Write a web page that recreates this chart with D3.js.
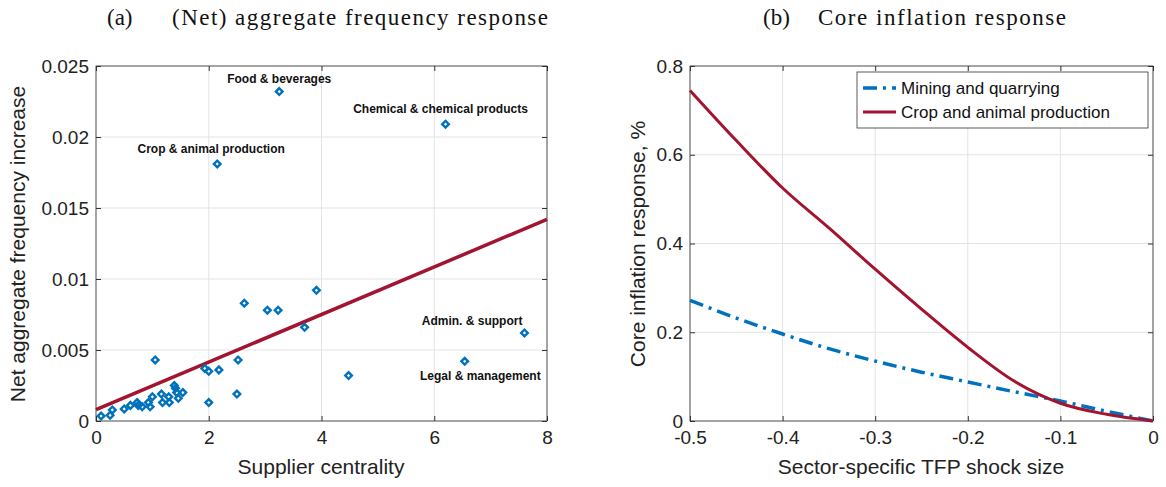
<!DOCTYPE html>
<html><head><meta charset="utf-8">
<script src="https://cdn.jsdelivr.net/npm/d3@7"></script>
<style>body{margin:0;background:#fff}</style></head>
<body><svg id="c" width="1166" height="487"></svg>
<script>
// scatter: supplier centrality vs net aggregate frequency increase
const centrality = [0.09,0.25,0.29,0.5,0.61,0.73,0.75,0.82,0.93,0.96,1.0,1.05,1.16,1.18,1.29,1.3,1.39,1.41,1.43,1.46,1.54,1.93,2.0,2.18,2.52,2.5,2.0,2.63,3.04,3.23,3.91,3.7,4.48,6.54,7.6,3.25,6.2,2.15];
const freqIncrease = [0.00035,0.0004,0.00078,0.00085,0.0011,0.0013,0.0011,0.001,0.0013,0.001,0.0017,0.0043,0.0019,0.0013,0.0017,0.0013,0.0025,0.0023,0.002,0.0016,0.002,0.0037,0.0035,0.0036,0.0043,0.0019,0.0013,0.0083,0.0078,0.0078,0.0092,0.0066,0.0032,0.0042,0.0062,0.0232,0.0209,0.0181];
const labels = [
  {name:"Food & beverages", x:3.25, y:0.0232, dx:0, dy:-9, anchor:"middle"},
  {name:"Chemical & chemical products", x:6.2, y:0.0209, dx:-5, dy:-11, anchor:"middle"},
  {name:"Crop & animal production", x:2.15, y:0.0181, dx:-6, dy:-11, anchor:"middle"},
  {name:"Admin. & support", x:7.6, y:0.0062, dx:-2, dy:-8, anchor:"end"},
  {name:"Legal & management", x:6.54, y:0.0042, dx:76, dy:19, anchor:"end"}
];
const fitX = [0, 8];
const fitY = [0.0008, 0.0142];

// response curves
const shock = [-0.5,-0.45,-0.4,-0.35,-0.3,-0.25,-0.2,-0.15,-0.1,-0.05,0];
const mining = [0.272,0.232,0.196,0.163,0.135,0.11,0.088,0.066,0.045,0.022,0];
const crop = [0.745,0.632,0.525,0.435,0.342,0.252,0.166,0.09,0.04,0.015,0];

const svg = d3.select("#c");
const font = "'Liberation Sans', Arial, sans-serif";
const serif = "'Liberation Serif', 'Times New Roman', serif";
const TOP = 66, BOT = 421;

function panel(x0, x1, xDom, yDom, xTicks, yTicks, xFmt, yFmt) {
  const x = d3.scaleLinear().domain(xDom).range([x0, x1]);
  const y = d3.scaleLinear().domain(yDom).range([BOT, TOP]);
  const g = svg.append("g");
  g.selectAll(".gx").data(xTicks).enter().append("line")
    .attr("x1", d => x(d)).attr("x2", d => x(d)).attr("y1", TOP).attr("y2", BOT)
    .attr("stroke", "#e3e3e3");
  g.selectAll(".gy").data(yTicks).enter().append("line")
    .attr("y1", d => y(d)).attr("y2", d => y(d)).attr("x1", x0).attr("x2", x1)
    .attr("stroke", "#e3e3e3");
  g.append("g").attr("transform", `translate(0,${BOT})`)
    .call(d3.axisBottom(x).tickValues(xTicks).tickFormat(xFmt).tickSizeInner(-5).tickSizeOuter(0).tickPadding(10));
  g.append("g").attr("transform", `translate(${x0},0)`)
    .call(d3.axisLeft(y).tickValues(yTicks).tickFormat(yFmt).tickSizeInner(-5).tickSizeOuter(0).tickPadding(7));
  g.append("g").attr("transform", `translate(0,${TOP})`)
    .call(d3.axisTop(x).tickValues(xTicks).tickFormat("").tickSizeInner(-5).tickSizeOuter(0));
  g.append("g").attr("transform", `translate(${x1},0)`)
    .call(d3.axisRight(y).tickValues(yTicks).tickFormat("").tickSizeInner(-5).tickSizeOuter(0));
  g.selectAll(".domain").remove();
  g.selectAll(".tick line").attr("stroke", "#333");
  g.selectAll(".tick text").attr("font-family", font).attr("font-size", 19).attr("fill", "#222");
  g.append("rect").attr("x", x0).attr("y", TOP).attr("width", x1 - x0).attr("height", BOT - TOP)
    .attr("fill", "none").attr("stroke", "#333").attr("stroke-width", 0.8);
  return {x, y, g};
}

function title(xTag, tag, xText, text, len) {
  svg.append("text").attr("x", xTag).attr("y", 25).attr("font-family", serif)
    .attr("font-size", 23).attr("fill", "#111").text(tag);
  svg.append("text").attr("x", xText).attr("y", 25).attr("font-family", serif)
    .attr("font-size", 23).attr("fill", "#111")
    .attr("textLength", len).attr("lengthAdjust", "spacing").text(text);
}

// panel (a)
const a = panel(96, 547, [0, 8], [0, 0.025], [0,2,4,6,8], [0,0.005,0.01,0.015,0.02,0.025], d3.format("d"), d => d === 0 ? "0" : String(+d.toFixed(3)));
a.g.append("line").attr("x1", a.x(fitX[0])).attr("x2", a.x(fitX[1]))
  .attr("y1", a.y(fitY[0])).attr("y2", a.y(fitY[1]))
  .attr("stroke", "#a2142f").attr("stroke-width", 3.5);
a.g.selectAll(".pt").data(centrality).enter().append("path")
  .attr("d", d3.symbol(d3.symbolSquare, 22))
  .attr("transform", (d, i) => `translate(${a.x(d)},${a.y(freqIncrease[i])}) rotate(45)`)
  .attr("fill", "none").attr("stroke", "#0072bd").attr("stroke-width", 2.4);
a.g.selectAll(".lab").data(labels).enter().append("text")
  .attr("x", d => a.x(d.x) + d.dx).attr("y", d => a.y(d.y) + d.dy)
  .attr("text-anchor", d => d.anchor).attr("font-family", font).attr("font-size", 12)
  .attr("font-weight", "bold").attr("fill", "#111").text(d => d.name);
svg.append("text").attr("x", 321).attr("y", 474).attr("text-anchor", "middle")
  .attr("font-family", font).attr("font-size", 21).attr("fill", "#222").text("Supplier centrality");
svg.append("text").attr("transform", "translate(25,244) rotate(-90)").attr("text-anchor", "middle")
  .attr("font-family", font).attr("font-size", 21).attr("fill", "#222").text("Net aggregate frequency increase");
title(107, "(a)", 172, "(Net) aggregate frequency response", 376);

// panel (b)
const b = panel(690, 1153, [-0.5, 0], [0, 0.8], [-0.5,-0.4,-0.3,-0.2,-0.1,0], [0,0.2,0.4,0.6,0.8], d => d === 0 ? "0" : String(+d.toFixed(1)), d => d === 0 ? "0" : String(+d.toFixed(1)));
const line = d3.line().curve(d3.curveMonotoneX).x((d, i) => b.x(shock[i])).y(d => b.y(d));
b.g.append("path").datum(mining).attr("d", line).attr("fill", "none")
  .attr("stroke", "#0072bd").attr("stroke-width", 3.5).attr("stroke-dasharray", "14 6 3 6");
b.g.append("path").datum(crop).attr("d", line).attr("fill", "none")
  .attr("stroke", "#a2142f").attr("stroke-width", 3);
const lg = b.g.append("g");
lg.append("rect").attr("x", 857).attr("y", 72).attr("width", 291).attr("height", 56)
  .attr("fill", "#fff").attr("stroke", "#333").attr("stroke-width", 0.8);
[["Mining and quarrying", "#0072bd", "14 6 3 6", 3.5], ["Crop and animal production", "#a2142f", null, 3]].forEach((s, i) => {
  const yy = 88 + i * 24;
  lg.append("line").attr("x1", 863).attr("x2", 896).attr("y1", yy).attr("y2", yy)
    .attr("stroke", s[1]).attr("stroke-width", s[3]).attr("stroke-dasharray", s[2]);
  lg.append("text").attr("x", 901).attr("y", yy + 6).attr("font-family", font)
    .attr("font-size", 17).attr("fill", "#111").text(s[0]);
});
svg.append("text").attr("x", 921).attr("y", 474).attr("text-anchor", "middle")
  .attr("font-family", font).attr("font-size", 21).attr("fill", "#222").text("Sector-specific TFP shock size");
svg.append("text").attr("transform", "translate(645,244) rotate(-90)").attr("text-anchor", "middle")
  .attr("font-family", font).attr("font-size", 21).attr("fill", "#222").text("Core inflation response, %");
title(763, "(b)", 818, "Core inflation response", 248);
</script></body></html>
